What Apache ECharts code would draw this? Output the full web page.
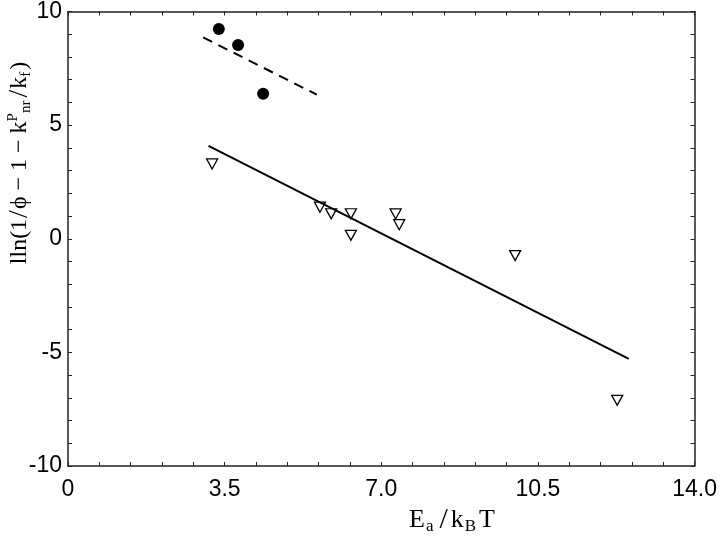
<!DOCTYPE html>
<html>
<head>
<meta charset="utf-8">
<script src="https://cdn.jsdelivr.net/npm/echarts@6/dist/echarts.min.js"></script>
<style>html,body{margin:0;padding:0;background:#fff}#c{width:720px;height:538px}</style>
</head>
<body>
<div id="c"></div>
<script>
// Data
const circleX = [3.37, 3.80, 4.36];
const circleY = [9.23, 8.53, 6.38];
const triX = [3.22, 5.63, 5.88, 6.32, 6.32, 7.32, 7.40, 9.99, 12.27];
const triY = [3.29, 1.39, 1.10, 1.10, 0.15, 1.09, 0.62, -0.74, -7.11];
const dashX = [3.02, 5.56];
const dashY = [8.86, 6.34];
const fitX = [3.14, 12.53];
const fitY = [4.09, -5.29];
const xTicks = [0, 3.5, 7.0, 10.5, 14.0];
const xTickLabels = ['0', '3.5', '7.0', '10.5', '14.0'];
const yTicks = [-10, -5, 0, 5, 10];
const yTickLabels = ['-10', '-5', '0', '5', '10'];

const zip = (a, b) => a.map((v, i) => [v, b[i]]);
const lineCol = '#222';
function xLab(v) {
  for (let i = 0; i < xTicks.length; i++) if (Math.abs(v - xTicks[i]) < 1e-6) return xTickLabels[i];
  return '';
}
function yLab(v) {
  for (let i = 0; i < yTicks.length; i++) if (Math.abs(v - yTicks[i]) < 1e-6) return yTickLabels[i];
  return '';
}
const axisBase = {
  type: 'value',
  axisLine: { show: true, onZero: false, lineStyle: { color: lineCol, width: 1.5 } },
  axisTick: { show: true, inside: true, length: 4, lineStyle: { color: lineCol, width: 1 } },
  minorTick: { show: true, splitNumber: 5, length: 4, lineStyle: { color: lineCol, width: 1 } },
  splitLine: { show: false },
  minorSplitLine: { show: false }
};
const chart = echarts.init(document.getElementById('c'), null, { renderer: 'canvas' });
chart.setOption({
  animation: false,
  backgroundColor: '#fff',
  grid: { left: 68, right: 25, top: 9, bottom: 72, containLabel: false },
  xAxis: [
    Object.assign({}, axisBase, {
      min: 0, max: 14, interval: 3.5, position: 'bottom',
      axisLabel: { formatter: xLab, color: '#000', fontFamily: 'Liberation Sans', fontSize: 23, margin: 12 }
    }),
    Object.assign({}, axisBase, {
      min: 0, max: 14, interval: 3.5, position: 'top',
      axisLabel: { show: false }
    })
  ],
  yAxis: [
    Object.assign({}, axisBase, {
      min: -10, max: 10, interval: 5, position: 'left',
      axisLabel: { formatter: yLab, color: '#000', fontFamily: 'Liberation Sans', fontSize: 23, margin: 6 }
    }),
    Object.assign({}, axisBase, {
      min: -10, max: 10, interval: 5, position: 'right',
      axisLabel: { show: false }
    })
  ],
  series: [
    {
      type: 'line', data: zip(fitX, fitY), symbol: 'none',
      lineStyle: { color: '#000', width: 2 }
    },
    {
      type: 'line', data: zip(dashX, dashY), symbol: 'none',
      lineStyle: { color: '#000', width: 2, type: [10, 7] }
    },
    {
      type: 'scatter', data: zip(circleX, circleY), symbol: 'circle', symbolSize: 12,
      itemStyle: { color: '#000', opacity: 1 }
    },
    {
      type: 'scatter', data: zip(triX, triY), symbol: 'triangle', symbolRotate: 180,
      symbolSize: [11, 10],
      itemStyle: { color: '#fff', borderColor: '#000', borderWidth: 1.3, opacity: 1 }
    }
  ],
  graphic: [
    {
      type: 'text', x: 452, y: 520,
      style: {
        text: 'E{sub|a}{sl|/}k{sub|B}T',
        font: '26px "Liberation Serif"',
        fill: '#000',
        align: 'center', verticalAlign: 'middle',
        rich: {
          sub: { fontSize: 17, fontFamily: 'Liberation Serif', verticalAlign: 'bottom', padding: [12, 3, 0, 1], fill: '#000' },
          sl: { fontSize: 30, fontFamily: 'Liberation Serif', padding: [0, 3, 0, 3], fill: '#000' }
        }
      }
    },
    {
      type: 'text', x: 20, y: 163, rotation: Math.PI / 2,
      style: {
        text: 'lln(1{sl|/}\u03d5 \u2212 1 \u2212 k{sup|P}{sub|nr}{sl|/}k{sub|f})',
        font: '24px "Liberation Serif"',
        fill: '#000',
        align: 'center', verticalAlign: 'middle',
        rich: {
          sub: { fontSize: 15, fontFamily: 'Liberation Serif', verticalAlign: 'bottom', padding: [10, 2, 0, 0], fill: '#000' },
          sup: { fontSize: 15, fontFamily: 'Liberation Serif', verticalAlign: 'top', padding: [0, 0, 10, 0], fill: '#000' },
          sl: { fontSize: 28, fontFamily: 'Liberation Serif', padding: [0, 1, 0, 1], fill: '#000' }
        }
      }
    }
  ]
});
</script>
</body>
</html>
